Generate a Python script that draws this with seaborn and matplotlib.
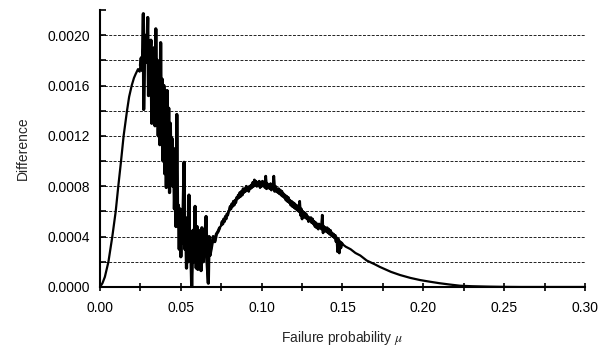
import numpy as np
import pandas as pd
import seaborn as sns
import matplotlib.pyplot as plt
from matplotlib.ticker import MultipleLocator, FixedLocator

# smooth rise from zero
rise_x = [0.0, 0.0015, 0.003, 0.0052, 0.0076, 0.0097, 0.0113, 0.013, 0.0146, 0.0167,
          0.018, 0.0196, 0.021, 0.022, 0.0235, 0.0245]
rise_y = [0.0, 0.00003, 0.00008, 0.0002, 0.0004, 0.0006, 0.0008, 0.0010, 0.0012, 0.0014,
          0.00151, 0.0016, 0.00166, 0.00169, 0.00173, 0.00171]

# noisy part between 0.025 and 0.072
noisy_x = [0.0250, 0.0255, 0.0260, 0.0265, 0.0268, 0.0270, 0.0275, 0.0280, 0.0285, 0.0290,
           0.0295, 0.0300, 0.0305, 0.0310, 0.0315, 0.0320, 0.0325, 0.0330, 0.0335, 0.0340,
           0.0345, 0.0350, 0.0355, 0.0360, 0.0365, 0.0370, 0.0375, 0.0380, 0.0385, 0.0390,
           0.0395, 0.0400, 0.0405, 0.0410, 0.0415, 0.0420, 0.0425, 0.0430, 0.0435, 0.0440,
           0.0445, 0.0450, 0.0455, 0.0460, 0.0465, 0.0470, 0.0475, 0.0480, 0.0485, 0.0490,
           0.0495, 0.0500, 0.0505, 0.0510, 0.0520, 0.0525, 0.0530, 0.0535, 0.0540, 0.0545,
           0.0550, 0.0555, 0.0560, 0.0567, 0.0575, 0.0580, 0.0588, 0.0595, 0.0600, 0.0605,
           0.0610, 0.0615, 0.0620, 0.0625, 0.0630, 0.0640, 0.0650, 0.0656, 0.0662, 0.0670,
           0.0675, 0.0680, 0.0690, 0.0700, 0.0710, 0.0720, 0.0730, 0.0740]
noisy_y = [0.00176, 0.00182, 0.00172, 0.00190, 0.00217, 0.00141, 0.00186, 0.00178, 0.00200, 0.00188,
           0.00214, 0.00152, 0.00195, 0.00182, 0.00196, 0.00130, 0.00172, 0.00140, 0.00190, 0.00128,
           0.00205, 0.00135, 0.00180, 0.00120, 0.00178, 0.00113, 0.00194, 0.00118, 0.00165, 0.00100,
           0.00160, 0.00090, 0.00150, 0.00079, 0.00156, 0.00095, 0.00142, 0.00075, 0.00130, 0.00085,
           0.00118, 0.00080, 0.00110, 0.00062, 0.00090, 0.00048, 0.00137, 0.00055, 0.00065, 0.00030,
           0.00062, 0.00024, 0.00058, 0.00035, 0.00099, 0.00030, 0.00050, 0.00015, 0.00055, 0.00020,
           0.00073, 0.00025, 0.00040, 0.00000, 0.00045, 0.00020, 0.00064, 0.00015, 0.00048, 0.00014,
           0.00045, 0.00018, 0.00040, 0.00013, 0.00047, 0.00020, 0.00042, 0.00056, 0.00020, 0.00003,
           0.00040, 0.00025, 0.00032, 0.00040, 0.00036, 0.00042, 0.00044, 0.00047]

# second hump, sampled every 0.0005 from 0.075 to 0.150
hump_x = np.round(np.arange(0.075, 0.15025, 0.0005), 4).tolist()
hump_y = [0.00049, 0.00052, 0.00050, 0.00054, 0.00052, 0.00056, 0.00054, 0.00058, 0.00057, 0.00060,
          0.00061, 0.00064, 0.00062, 0.00066, 0.00064, 0.00068, 0.00065, 0.00069, 0.00067, 0.00071,
          0.00070, 0.00073, 0.00071, 0.00075, 0.00072, 0.00076, 0.00073, 0.00078, 0.00075, 0.00078,
          0.00076, 0.00080, 0.00077, 0.00079, 0.00076, 0.00080, 0.00078, 0.00081, 0.00079, 0.00083,
          0.00080, 0.00085, 0.00081, 0.00084, 0.00080, 0.00083, 0.00081, 0.00084, 0.00079, 0.00083,
          0.00080, 0.00084, 0.00081, 0.00083, 0.00079, 0.00088, 0.00078, 0.00082, 0.00079, 0.00081,
          0.00078, 0.00082, 0.00077, 0.00081, 0.00078, 0.00088, 0.00076, 0.00080, 0.00076, 0.00078,
          0.00075, 0.00078, 0.00074, 0.00077, 0.00073, 0.00076, 0.00072, 0.00074, 0.00071, 0.00073,
          0.00069, 0.00072, 0.00068, 0.00071, 0.00067, 0.00069, 0.00065, 0.00068, 0.00064, 0.00067,
          0.00063, 0.00066, 0.00062, 0.00065, 0.00061, 0.00063, 0.00060, 0.00068, 0.00057, 0.00062,
          0.00054, 0.00060, 0.00056, 0.00059, 0.00055, 0.00058, 0.00054, 0.00056, 0.00052, 0.00055,
          0.00053, 0.00055, 0.00051, 0.00054, 0.00050, 0.00052, 0.00048, 0.00051, 0.00047, 0.00050,
          0.00046, 0.00050, 0.00047, 0.00049, 0.00046, 0.00057, 0.00043, 0.00048, 0.00045, 0.00047,
          0.00044, 0.00047, 0.00043, 0.00046, 0.00042, 0.00045, 0.00041, 0.00043, 0.00040, 0.00042,
          0.00039, 0.00041, 0.00036, 0.00039, 0.00028, 0.00038, 0.00027, 0.00036, 0.00031, 0.00035,
          0.00034]

# smooth tail
tail_x = [0.152, 0.155, 0.158, 0.161, 0.165, 0.170, 0.173, 0.180, 0.1856, 0.192,
          0.198, 0.204, 0.210, 0.216, 0.2227, 0.230, 0.240, 0.250, 0.260, 0.300]
tail_y = [0.00032, 0.00030, 0.00027, 0.00025, 0.00021, 0.00018, 0.00016, 0.00012, 0.000095, 0.000072,
          0.000055, 0.000042, 0.00003, 0.00002, 0.00001, 0.000006, 0.000003, 0.000001, 0.0, 0.0]

df = pd.DataFrame({
    'mu': rise_x + noisy_x + hump_x + tail_x,
    'diff': rise_y + noisy_y + hump_y + tail_y,
})

sns.set_style('ticks')
plt.rcParams['font.family'] = ['Liberation Sans', 'DejaVu Sans']
plt.rcParams['mathtext.fontset'] = 'stix'

fig = plt.figure(figsize=(6.11, 3.52), dpi=100)
ax = fig.add_axes([0.1637, 0.1847, 0.7937, 0.787])

sns.lineplot(data=df, x='mu', y='diff', estimator=None, sort=False,
             color='black', linewidth=1.6, ax=ax)
# the jagged parts look heavier in the original
sns.lineplot(x=noisy_x, y=noisy_y, estimator=None, sort=False,
             color='black', linewidth=2.3, ax=ax)
sns.lineplot(x=hump_x, y=hump_y, estimator=None, sort=False,
             color='black', linewidth=2.0, ax=ax)

ax.set_xlim(0, 0.30)
ax.set_ylim(0, 0.0022)
ax.xaxis.set_major_locator(MultipleLocator(0.05))
ax.xaxis.set_minor_locator(MultipleLocator(0.025))
ax.yaxis.set_major_locator(FixedLocator([0.0, 0.0004, 0.0008, 0.0012, 0.0016, 0.0020]))
ax.yaxis.set_minor_locator(FixedLocator([0.0002, 0.0006, 0.0010, 0.0014, 0.0018, 0.0022]))
ax.xaxis.set_major_formatter(plt.FormatStrFormatter('%.2f'))
ax.yaxis.set_major_formatter(plt.FormatStrFormatter('%.4f'))

ax.tick_params(which='both', width=1.2, color='black', labelsize=10, labelcolor='black')
ax.tick_params(axis='y', which='both', direction='in', length=4, pad=7)
ax.tick_params(axis='x', which='both', direction='inout', length=6, pad=7)

ax.grid(True, which='both', axis='y', color='#222222', linestyle=(0, (3, 1.5)), linewidth=0.7)
ax.set_axisbelow(True)
fig.canvas.draw()
for t in ax.yaxis.get_minor_ticks():
    if abs(t.get_loc() - 0.0022) < 1e-9:
        t.gridline.set_visible(False)

for s in ['top', 'right']:
    ax.spines[s].set_visible(False)
for s in ['left', 'bottom']:
    ax.spines[s].set_linewidth(1.5)
    ax.spines[s].set_color('black')

ax.set_xlabel(r'Failure probability $\mu$', fontsize=10, labelpad=10)
ax.set_ylabel('Difference', fontsize=10, labelpad=13)

fig.savefig('out.png', dpi=100)
